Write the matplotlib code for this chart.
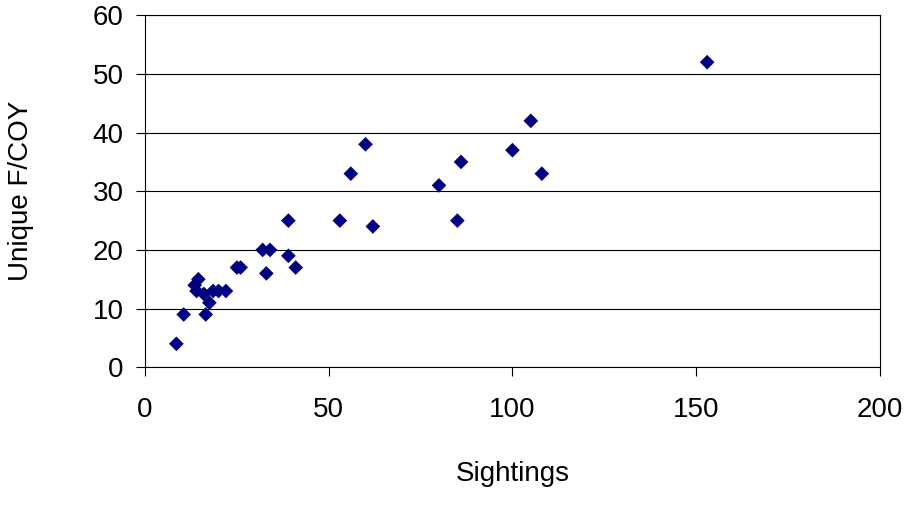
import matplotlib.pyplot as plt

plt.rcParams["font.family"] = ["Liberation Sans", "DejaVu Sans"]

# sightings vs. unique females with cubs-of-the-year
sightings = [8.5, 10.5, 16.5, 14.5, 13.5, 14, 16, 17.5, 18.5, 20, 22,
             25, 26, 32, 34, 33, 39, 39, 41, 53, 56, 60, 62,
             80, 85, 86, 100, 105, 108, 153]
unique_fcoy = [4, 9, 9, 15, 14, 13, 12.5, 11, 13, 13, 13,
               17, 17, 20, 20, 16, 19, 25, 17, 25, 33, 38, 24,
               31, 25, 35, 37, 42, 33, 52]

fig = plt.figure(figsize=(9.07, 5.08), dpi=100)
ax = fig.add_axes([0.160, 0.277, 0.810, 0.693])

ax.scatter(sightings, unique_fcoy, marker="D", s=56, color="#000080",
           edgecolors="none", zorder=3)

ax.set_xlim(0, 200)
ax.set_ylim(0, 60)
ax.set_xticks(range(0, 201, 50))
ax.set_yticks(range(0, 61, 10))
ax.yaxis.grid(True, color="black", linewidth=0.8)
ax.set_axisbelow(True)
for s in ax.spines.values():
    s.set_color("black")
    s.set_linewidth(0.8)
ax.tick_params(direction="out", length=6.5, width=0.8, labelsize=20)
ax.tick_params(axis="x", pad=15)
ax.tick_params(axis="y", pad=9)

ax.set_xlabel("Sightings", fontsize=20, labelpad=27)
ax.set_ylabel("Unique F/COY", fontsize=20, labelpad=42)

fig.savefig("out.png", dpi=100)
